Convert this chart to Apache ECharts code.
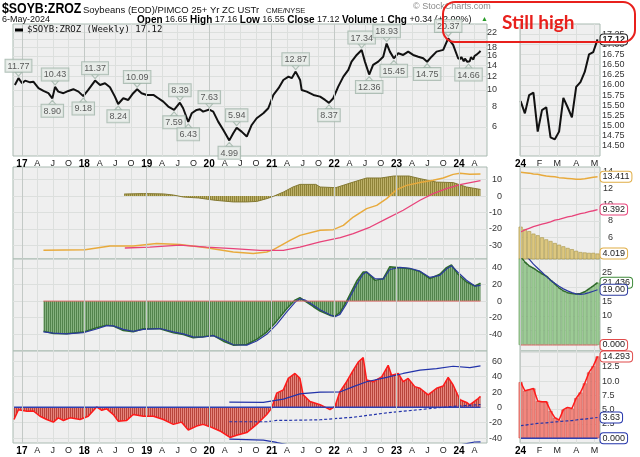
<!DOCTYPE html>
<html><head><meta charset="utf-8">
<script src="https://cdn.jsdelivr.net/npm/echarts@6/dist/echarts.min.js"></script>
<style>html,body{margin:0;padding:0;background:#fff}#c{width:640px;height:457px}</style>
</head><body><div id="c"></div>
<script>
// ---------- DATA ----------
const quarterTicks = ['2017-01-01','2017-04-01','2017-07-01','2017-10-01','2018-01-01','2018-04-01','2018-07-01','2018-10-01','2019-01-01','2019-04-01','2019-07-01','2019-10-01','2020-01-01','2020-04-01','2020-07-01','2020-10-01','2021-01-01','2021-04-01','2021-07-01','2021-10-01','2022-01-01','2022-04-01','2022-07-01','2022-10-01','2023-01-01','2023-04-01','2023-07-01','2023-10-01','2024-01-01','2024-04-01'];
const yearTicks = ['2017-01-01','2018-01-01','2019-01-01','2020-01-01','2021-01-01','2022-01-01','2023-01-01','2024-01-01'];
const monthTicks2024 = ['2024-01-01','2024-02-01','2024-03-01','2024-04-01','2024-05-01'];
const monthLetters = ['J','F','M','A','M','J','J','A','S','O','N','D'];

const priceTicks = [6,8,10,12,14,16,18,20,22];
const p2Ticks = [-30,-20,-10,0,10];
const p2TicksR = [6,8,10,12,14];
const p3Ticks = [-40,-20,0,20,40];
const p3TicksR = [5,10,15,20,25];
const p4Ticks = [-40,-20,0,20,40,60];
const p4TicksR = [2.5,5,7.5,10,12.5,15];

// weekly price history (irregular samples)
const priceDates = ['2016-11-21','2016-12-12','2017-01-02','2017-01-20','2017-02-18','2017-03-09','2017-04-08','2017-05-07','2017-06-05','2017-06-28',
'2017-07-14','2017-08-02','2017-09-01','2017-09-30','2017-10-29','2017-11-28','2017-12-26','2018-01-24','2018-03-05','2018-04-03',
'2018-05-02','2018-05-31','2018-06-29','2018-07-18','2018-08-17','2018-09-15','2018-10-14','2018-11-06','2018-12-02','2019-01-01',
'2019-02-09','2019-03-10','2019-04-08','2019-05-07','2019-06-10','2019-07-14','2019-08-02','2019-09-01','2019-09-21','2019-10-20',
'2019-11-08','2019-11-27','2020-01-02','2020-01-25','2020-02-23','2020-03-24','2020-04-28','2020-05-21','2020-06-10','2020-07-09',
'2020-08-08','2020-09-06','2020-10-05','2020-11-13','2020-12-12','2021-01-11','2021-02-10','2021-03-10','2021-04-09','2021-04-28',
'2021-05-21','2021-06-16','2021-06-25','2021-07-25','2021-09-02','2021-10-11','2021-11-09','2021-12-02','2021-12-27','2022-01-25',
'2022-02-24','2022-03-25','2022-04-13','2022-05-13','2022-06-11','2022-06-30','2022-07-25','2022-08-17','2022-09-16','2022-10-15',
'2022-11-04','2022-11-23','2022-12-16','2023-01-11','2023-02-09','2023-03-10','2023-04-08','2023-05-08','2023-06-06','2023-06-29',
'2023-07-25','2023-08-23','2023-10-01','2023-10-30','2023-11-28','2023-12-27'];
const priceValues = [10.71,11.77,10.96,11.36,11.10,11.20,10.24,9.86,9.56,8.90,
10.43,9.77,9.56,9.86,10.10,9.77,9.18,10.00,11.37,10.71,
10.96,10.38,9.12,8.24,8.92,8.71,9.56,10.09,9.56,9.33,
9.33,8.92,8.51,7.95,7.59,8.39,7.77,6.43,7.25,7.59,
7.66,7.42,7.63,7.42,6.46,5.76,4.99,5.51,5.94,5.63,
5.26,6.17,6.77,7.25,7.77,9.33,10.24,11.47,12.01,11.75,
12.87,11.47,10.00,9.77,9.33,9.12,8.71,8.37,8.92,10.47,
12.01,13.17,14.77,16.19,17.34,14.77,12.36,14.11,14.77,15.81,
18.93,16.95,15.45,16.57,16.19,16.95,16.19,15.81,15.47,14.75,
15.81,16.95,17.36,20.37,18.58,15.47];

const highDates = ['2016-12-12','2017-07-14','2018-03-05','2018-11-06','2019-07-14','2020-01-02','2020-06-10','2021-05-21','2022-06-11','2022-11-04','2023-10-30'];
const highValues = [11.77,10.43,11.37,10.09,8.39,7.63,5.94,12.87,17.34,18.93,20.37];
const lowDates = ['2017-06-28','2017-12-26','2018-07-18','2019-06-10','2019-09-01','2020-04-28','2021-12-02','2022-07-25','2022-12-16','2023-06-29','2024-02-26'];
const lowValues = [8.90,9.18,8.24,7.59,6.43,4.99,8.37,12.36,15.45,14.75,14.66];

// 2024 weekly (right-hand zoom panels)
const weeks2024 = ['2024-01-01','2024-01-08','2024-01-15','2024-01-22','2024-01-29','2024-02-05','2024-02-12','2024-02-19','2024-02-26','2024-03-04','2024-03-11','2024-03-18','2024-03-25','2024-04-01','2024-04-08','2024-04-15','2024-04-22','2024-04-29','2024-05-06'];
const price2024 = [15.60,15.30,15.75,15.81,14.85,15.38,15.45,14.71,14.66,14.85,15.68,15.45,15.20,15.95,16.07,16.32,16.75,16.81,17.12];
const rOrange = [13.95,13.9,13.85,13.75,13.7,13.6,13.5,13.45,13.4,13.3,13.25,13.2,13.15,13.1,13.1,13.15,13.25,13.35,13.411];
const rPink = [6.65,6.9,7.1,7.3,7.45,7.6,7.75,7.9,8.1,8.2,8.35,8.5,8.6,8.75,8.9,9.0,9.15,9.25,9.392];
const rOlive = [7.3,7.0,6.75,6.45,6.25,6.0,5.75,5.55,5.3,5.1,4.9,4.7,4.55,4.35,4.2,4.15,4.1,4.1,4.019];
const rGreen = [30.5,28.5,27.2,26.4,25.4,24.5,23.7,22.3,21.0,19.6,18.6,18.0,17.7,17.5,17.7,18.3,19.3,20.3,21.436];
const rBlue = [33,31.5,29.5,27.8,26.4,25.0,23.6,22.3,21.2,20.2,19.3,18.6,18.0,17.6,17.4,17.6,18.0,18.5,19.0];
const rRed = [9.8,8.3,8.5,8.7,6.5,6.4,6.4,4.8,3.6,3.2,5.0,5.4,5.2,7.0,8.0,9.6,11.5,12.6,14.293];
const rMean = [2.2,2.3,2.4,2.5,2.6,2.65,2.7,2.8,2.85,2.9,3.0,3.05,3.1,3.2,3.3,3.35,3.45,3.55,3.63];
const rZero = [0,0,0,0,0,0,0,0,0,0,0,0,0,0,0,0,0,0,0];

// panel 2 (left)
const p2OrangeDates = ['2017-05-07','2018-01-05','2018-05-31','2018-10-14','2019-02-28','2019-07-14','2019-12-17','2020-05-21','2020-09-15','2020-12-03','2021-01-11','2021-04-18','2021-06-15','2021-10-11','2021-12-27','2022-02-24','2022-04-23','2022-07-10','2022-09-07','2022-11-04','2023-01-02','2023-03-01','2023-05-18','2023-08-03','2023-10-01','2023-11-28','2024-01-07','2024-03-05','2024-05-06'];
const p2Orange = [-33.1,-32.7,-30.5,-30.5,-29,-29.6,-31.5,-34.1,-35.1,-34.1,-32.7,-27,-24,-20.9,-20.5,-17.9,-12.8,-7.7,-5.7,-1.6,3.9,6.5,8.2,9.6,11,13.2,13.9,13.3,13.411];
const p2PinkDates = ['2018-08-26','2019-01-19','2019-07-14','2019-12-17','2020-05-21','2020-10-24','2021-03-10','2021-06-15','2021-10-11','2022-02-06','2022-04-23','2022-07-31','2022-11-04','2023-02-09','2023-05-18','2023-08-03','2023-10-20','2024-01-07','2024-05-06'];
const p2Pink = [-31.7,-31.1,-29.9,-31.1,-32.1,-33.1,-33.1,-31.1,-28,-25.4,-22.9,-18.9,-13.8,-8.7,-2.6,1.5,4.5,6.9,9.392];
const p2HistDates = ['2018-08-22','2018-12-12','2019-04-08','2019-06-06','2019-08-03','2019-11-01','2020-02-05','2020-05-21','2020-08-08','2020-10-05','2020-12-03','2021-01-11','2021-03-10','2021-05-05','2021-06-15','2021-09-16','2021-10-11','2022-01-11','2022-04-23','2022-07-10','2022-10-02','2022-12-16','2023-03-15','2023-05-18','2023-08-23','2023-11-28','2024-02-14','2024-05-06'];
const p2Hist = [1.2,1.5,1.3,0.6,-0.6,-1.2,-2.6,-3.6,-3.6,-3.3,-1.6,-0.2,2.4,5.5,7.1,7.1,5.5,5.1,8.5,11,11,12.2,12.2,10.6,8.5,8.2,5.5,4.019];

// panel 3 (left)
const p3Dates = ['2017-05-07','2017-07-04','2017-09-20','2017-12-26','2018-03-14','2018-05-12','2018-06-20','2018-08-17','2018-10-14','2018-12-12',
'2019-03-19','2019-06-06','2019-08-03','2019-09-30','2019-11-27','2020-01-25','2020-03-24','2020-05-21','2020-08-08','2020-10-05',
'2020-12-03','2021-01-30','2021-03-30','2021-05-17','2021-06-15','2021-07-15','2021-09-02','2021-10-11','2021-12-08','2022-01-06',
'2022-02-04','2022-03-15','2022-05-13','2022-06-20','2022-07-10','2022-08-28','2022-10-15','2022-11-23','2023-01-21','2023-03-20',
'2023-05-18','2023-07-15','2023-09-11','2023-10-20','2023-11-18','2023-12-27','2024-02-14','2024-04-03','2024-05-06'];
const p3Green = [-36.1,-38.9,-39.3,-37.3,-32.1,-28.9,-30.1,-35.3,-36.9,-33.3,
-33.3,-38.1,-40.1,-44.1,-42.9,-41.3,-48.2,-53,-52.2,-46.1,
-37.3,-24.1,-9.2,1.2,4.1,0,-6.8,-12,-17.2,-18.1,
-14,0,24.1,35,35,24.9,27,41.4,40.2,39,
35.4,27,32.2,40.2,43.4,32.2,22.9,18.1,21.436];
const p3Blue = [-37,-38.5,-39.5,-38,-33.5,-29.5,-29.8,-34,-36.5,-34,
-33,-37,-39.5,-43,-43.2,-41.5,-46.5,-52.5,-53,-48,
-40,-28,-13,-1.5,2.8,1.2,-5,-10.5,-16.5,-18.8,
-16,-3,20,32.5,35,27,26.5,38,40.5,39.5,
36,28.5,31,38.5,42.5,34.5,25,18,19.0];
const p3ZeroDates = ['2017-05-07','2024-05-06'];
const p3Zero = [0,0];

// panel 4 (left)
const p4Dates = ['2016-11-16','2016-12-12','2017-01-30','2017-03-09','2017-04-17','2017-05-26','2017-07-04','2017-08-02','2017-09-01','2017-10-10',
'2017-12-07','2018-01-24','2018-03-14','2018-04-13','2018-05-12','2018-06-20','2018-07-18','2018-09-06','2018-10-14','2018-12-12',
'2019-02-09','2019-04-08','2019-06-06','2019-07-24','2019-09-01','2019-10-20','2019-11-27','2020-01-05','2020-03-04','2020-05-02',
'2020-06-10','2020-08-08','2020-10-05','2020-12-03','2021-01-01','2021-01-30','2021-03-10','2021-04-08','2021-05-17','2021-06-15',
'2021-07-04','2021-08-13','2021-10-11','2021-12-08','2022-01-06','2022-02-04','2022-03-15','2022-04-23','2022-05-22','2022-06-20',
'2022-07-10','2022-08-18','2022-10-06','2022-11-13','2022-12-03','2023-01-11','2023-02-09','2023-03-10','2023-04-18','2023-05-18',
'2023-07-05','2023-08-23','2023-10-01','2023-10-30','2023-11-28','2024-01-07','2024-02-15','2024-03-04','2024-04-22','2024-05-06'];
const p4Red = [-15.8,-3,-5.1,-4.8,-11.6,-15.8,-19.3,-13.7,-17.1,-13.7,
-15.8,-11.6,0.5,-3.8,-2,-9.4,-18,-17,-9.4,-11.6,
-11.6,-15.8,-22.2,-19.3,-29.6,-24.4,-22.2,-25.2,-30.8,-39.3,
-36.4,-32.9,-22.2,-9.4,-0.8,18.5,22.8,37.8,44.2,37.8,
16.3,7.7,3.5,-3,1.3,20.6,33.4,48.5,59.1,64.8,
35.6,33.4,39.8,54.9,42,44.2,33.4,37.8,27,24.9,
16.3,24.9,27.9,39,29.2,9.9,6.4,3.2,11.5,14.293];
const p4UpperDates = ['2020-04-28','2020-11-13','2021-03-10','2021-06-15','2021-10-11','2022-02-04','2022-04-23','2022-07-10','2022-11-04','2023-02-09','2023-05-18','2023-08-23','2023-11-28','2024-03-05','2024-05-06'];
const p4Upper = [6.9,6.4,10.8,17.6,19.8,20,27,33.4,39,44.2,48.5,50.6,53.6,51.9,54];
const p4MeanDates = ['2020-04-28','2020-12-03','2021-01-30','2021-06-15','2021-10-11','2022-04-23','2022-11-04','2023-05-18','2023-08-23','2023-11-28','2024-05-06'];
const p4Mean = [-18.8,-18.8,-17.1,-16.7,-16.2,-12.9,-7.2,-3,-0.8,1.3,3.63];
const p4LowerDates = ['2020-04-28','2020-11-13','2021-01-30','2021-06-15','2022-06-20','2023-06-01','2024-01-07','2024-04-01','2024-05-06'];
const p4Lower = [-41.5,-42.8,-45.8,-52,-60,-56,-49,-45.2,-45];
const p4ZeroDates = ['2016-11-16','2024-05-06'];
const p4Zero = [0,0];

// ---------- CHART ----------
const FONT = 'Liberation Sans, Arial, sans-serif';
const ts = s => new Date(s + 'T00:00:00').getTime();
const zip = (d, v) => d.map((x, i) => [ts(x), v[i]]);
const GRIDC = '#dcdfdd';
const YEARC = '#c3c9c6';

function stripes(dark, light) {
  const c = document.createElement('canvas'); c.width = 2; c.height = 2;
  const g = c.getContext('2d');
  g.fillStyle = light; g.fillRect(0, 0, 2, 2);
  g.fillStyle = dark; g.fillRect(0, 0, 1, 2);
  return {image: c, repeat: 'repeat'};
}

function timeLabel(v) {
  const d = new Date(v); const m = d.getMonth();
  if (m === 0) return '{y|' + String(d.getFullYear()).slice(2) + '}';
  return monthLetters[m];
}

const gridBase = {show: true, backgroundColor: '#efefef', borderColor: '#a9bab1', borderWidth: 1};
const grids = [
  {left: 13, top: 24, width: 474, height: 132},
  {left: 520, top: 24, width: 80, height: 132},
  {left: 13, top: 167, width: 474, height: 92},
  {left: 520, top: 167, width: 80, height: 92},
  {left: 13, top: 259, width: 474, height: 92},
  {left: 520, top: 259, width: 80, height: 92},
  {left: 13, top: 351, width: 474, height: 92},
  {left: 520, top: 351, width: 80, height: 92}
].map(g => Object.assign({}, gridBase, g));

function xAxisL(gi, show) {
  const cv = quarterTicks.map(ts);
  return {type: 'value', gridIndex: gi, min: ts('2016-11-10'), max: ts('2024-06-13'), scale: true,
    axisLine: {show: false}, axisTick: {show: false, customValues: cv},
    axisLabel: {show: show, customValues: cv, formatter: timeLabel, margin: 3, fontSize: 9, color: '#222', fontFamily: FONT,
      rich: {y: {fontWeight: 'bold', fontSize: 10, color: '#000', fontFamily: FONT}}},
    splitLine: {show: true, lineStyle: {color: GRIDC, width: 1}}};
}
function xAxisR(gi, show) {
  const cv = monthTicks2024.map(ts);
  return {type: 'value', gridIndex: gi, min: ts('2023-12-31'), max: ts('2024-05-10'), scale: true,
    axisLine: {show: false}, axisTick: {show: false, customValues: cv},
    axisLabel: {show: show, customValues: cv, formatter: timeLabel, margin: 3, fontSize: 9, color: '#222', fontFamily: FONT,
      rich: {y: {fontWeight: 'bold', fontSize: 10, color: '#000', fontFamily: FONT}}},
    splitLine: {show: true, lineStyle: {color: GRIDC, width: 1}}};
}
function yAxis(gi, type, min, max, ticks, fmt, align, margin) {
  return {type: type, gridIndex: gi, position: 'right', min: min, max: max,
    axisLine: {show: false}, axisTick: {show: false, customValues: ticks},
    axisLabel: {customValues: ticks, formatter: fmt, align: align, margin: margin, fontSize: 9, color: '#333', fontFamily: FONT,
      hideOverlap: false, showMinLabel: true, showMaxLabel: true},
    splitLine: {show: true, lineStyle: {color: GRIDC, width: 1}}};
}
const rightPriceTicks = [14.5,14.75,15,15.25,15.5,15.75,16,16.25,16.5,16.75,17,17.25];

const boxLbl = (border, dec) => ({show: true, formatter: p => p.value[1].toFixed(dec), backgroundColor: '#fff', borderColor: border,
  borderWidth: 1, borderRadius: 3, padding: [1, 2, 0, 2], fontSize: 9, color: '#222', fontFamily: FONT, distance: 3});
const tagStyle = {backgroundColor: '#e7ece9', borderColor: '#9fb3a8', borderWidth: 1, padding: [2, 2, 1, 2],
  fontSize: 9, color: '#333', fontFamily: FONT, formatter: p => p.value[1].toFixed(2)};

const L = (name, xi, data, color, width, extra) => Object.assign({type: 'line', name: name, xAxisIndex: xi, yAxisIndex: xi,
  data: data, symbol: 'none', lineStyle: {color: color, width: width}, itemStyle: {color: color}, animation: false, z: 3}, extra || {});

// darker year grid lines (drawn beneath the data)
function yearGrid(xi, ticks, anchor) {
  return {type: 'line', xAxisIndex: xi, yAxisIndex: xi, data: [anchor], symbol: 'none', lineStyle: {opacity: 0}, z: 1, silent: true,
    animation: false,
    markLine: {silent: true, symbol: 'none', animation: false, label: {show: false}, lineStyle: {color: YEARC, type: 'solid', width: 1},
      data: ticks.map(t => ({xAxis: ts(t)}))}};
}

const series = [
  yearGrid(0, yearTicks, [ts('2017-01-01'), 10]),
  yearGrid(2, yearTicks, [ts('2017-01-01'), 0]),
  yearGrid(4, yearTicks, [ts('2017-01-01'), 0]),
  yearGrid(6, yearTicks, [ts('2017-01-01'), 0]),
  yearGrid(1, ['2024-01-01'], [ts('2024-01-01'), 15]),
  yearGrid(3, ['2024-01-01'], [ts('2024-01-01'), 8]),
  yearGrid(5, ['2024-01-01'], [ts('2024-01-01'), 10]),
  yearGrid(7, ['2024-01-01'], [ts('2024-01-01'), 5]),
  // panel 1
  L('price', 0, zip(priceDates.concat(weeks2024), priceValues.concat(price2024)), '#111', 2),
  {type: 'scatter', xAxisIndex: 0, yAxisIndex: 0, data: zip(highDates, highValues), symbol: 'triangle', symbolRotate: 180,
    symbolSize: [7, 4], symbolOffset: [0, -4], itemStyle: {color: '#e7ece9', borderColor: '#9fb3a8', borderWidth: 1},
    label: Object.assign({show: true, position: 'top', distance: 0}, tagStyle), z: 5, animation: false},
  {type: 'scatter', xAxisIndex: 0, yAxisIndex: 0, data: zip(lowDates, lowValues), symbol: 'triangle',
    symbolSize: [7, 4], symbolOffset: [0, 4], itemStyle: {color: '#e7ece9', borderColor: '#9fb3a8', borderWidth: 1},
    label: Object.assign({show: true, position: 'bottom', distance: 0}, tagStyle), z: 5, animation: false},
  L('priceR', 1, zip(weeks2024, price2024), '#111', 2, {endLabel: Object.assign(boxLbl('#222', 2), {fontWeight: 'bold'})}),
  // panel 2
  L('hist', 2, zip(p2HistDates, p2Hist), '#857a33', 1, {areaStyle: {color: stripes('#8f8338', '#bcb068'), opacity: 1}, z: 2}),
  L('orange', 2, zip(p2OrangeDates, p2Orange), '#e8aa3c', 1.5),
  L('pink', 2, zip(p2PinkDates, p2Pink), '#e8437a', 1.3),
  {type: 'bar', xAxisIndex: 3, yAxisIndex: 3, data: zip(weeks2024, rOlive), barWidth: 4,
    itemStyle: {color: '#dcc77f', borderColor: '#a8954a', borderWidth: 0.6}, animation: false, z: 2},
  L('oliveLbl', 3, zip(weeks2024, rOlive), '#a8954a', 0, {lineStyle: {opacity: 0}, endLabel: boxLbl('#e0ad45', 3)}),
  L('orangeR', 3, zip(weeks2024, rOrange), '#e8aa3c', 1.5, {endLabel: boxLbl('#e0ad45', 3)}),
  L('pinkR', 3, zip(weeks2024, rPink), '#e8437a', 1.3, {endLabel: boxLbl('#e8437a', 3)}),
  // panel 3
  L('green', 4, zip(p3Dates, p3Green), '#2f6a2b', 1.5, {areaStyle: {color: stripes('#52834c', '#85b27f'), opacity: 1}, z: 2}),
  L('blue', 4, zip(p3Dates, p3Blue), '#2b3a9e', 1.2),
  L('zero3', 4, zip(p3ZeroDates, p3Zero), '#e06a6a', 1),
  {type: 'bar', xAxisIndex: 5, yAxisIndex: 5, data: zip(weeks2024, rGreen), barWidth: 4,
    itemStyle: {color: '#9ccb95', borderColor: '#6fa268', borderWidth: 0.6}, animation: false, z: 2},
  L('greenR', 5, zip(weeks2024, rGreen), '#2f6a2b', 1.5, {endLabel: boxLbl('#3f8a3a', 3)}),
  L('blueR', 5, zip(weeks2024, rBlue), '#2b3a9e', 1.2, {endLabel: boxLbl('#2b3a9e', 2)}),
  L('zero3R', 5, zip(weeks2024, rZero), '#e06a6a', 1, {endLabel: boxLbl('#e04a4a', 3)}),
  // panel 4
  L('red', 6, zip(p4Dates, p4Red), '#ff1a1a', 1.5, {areaStyle: {color: stripes('#b8443c', '#e6857d'), opacity: 1}, z: 2}),
  L('zero4', 6, zip(p4ZeroDates, p4Zero), '#3040b0', 1.5),
  L('upper', 6, zip(p4UpperDates, p4Upper), '#2233aa', 1.2),
  L('mean', 6, zip(p4MeanDates, p4Mean), '#2233aa', 1.2, {lineStyle: {color: '#2233aa', width: 1.2, type: [3, 2]}}),
  L('lower', 6, zip(p4LowerDates, p4Lower), '#2233aa', 1.2),
  {type: 'bar', xAxisIndex: 7, yAxisIndex: 7, data: zip(weeks2024, rRed), barWidth: 4,
    itemStyle: {color: '#f2877e', borderColor: '#cf5148', borderWidth: 0.6}, animation: false, z: 2},
  L('redR', 7, zip(weeks2024, rRed), '#ff1a1a', 1.5, {endLabel: boxLbl('#e04a4a', 3)}),
  L('meanR', 7, zip(weeks2024, rMean), '#2233aa', 1.2, {lineStyle: {color: '#2233aa', width: 1.2, type: [3, 2]}, endLabel: boxLbl('#2233aa', 2)}),
  L('zero4R', 7, zip(weeks2024, rZero), '#3040b0', 1.5, {endLabel: boxLbl('#2233aa', 3)})
];

const option = {
  backgroundColor: '#fff',
  animation: false,
  grid: grids,
  xAxis: [xAxisL(0, true), xAxisR(1, true), xAxisL(2, false), xAxisR(3, false), xAxisL(4, false), xAxisR(5, false), xAxisL(6, true), xAxisR(7, true)],
  yAxis: [
    yAxis(0, 'log', 4.024, 24.8, priceTicks, v => String(Math.round(v)), 'right', 10),
    yAxis(1, 'value', 14.25, 17.5, rightPriceTicks, v => v.toFixed(2), 'left', 2),
    yAxis(2, 'value', -38.4, 17.7, p2Ticks, v => String(v), 'right', 15),
    yAxis(3, 'value', 3.35, 14.6, p2TicksR, v => String(v), 'right', 13),
    yAxis(4, 'value', -60, 50.6, p3Ticks, v => String(v), 'right', 15),
    yAxis(5, 'value', -2.06, 29.57, p3TicksR, v => String(v), 'right', 12),
    yAxis(6, 'value', -46.5, 73.5, p4Ticks, v => String(v), 'right', 15),
    yAxis(7, 'value', -0.82, 15.24, p4TicksR, v => v.toFixed(1), 'left', 2)
  ],
  series: series,
  graphic: [
    {type: 'text', x: 2, y: 9, scaleX: 0.88, style: {text: '$SOYB:ZROZ', font: 'bold 14px ' + FONT, fill: '#000', textVerticalAlign: 'middle'}},
    {type: 'text', x: 83, y: 10, style: {text: 'Soybeans (EOD)/PIMCO 25+ Yr ZC USTr', font: '9.5px ' + FONT, fill: '#111', textVerticalAlign: 'middle'}},
    {type: 'text', x: 266, y: 10.5, style: {text: 'CME/NYSE', font: '7.5px ' + FONT, fill: '#111', textVerticalAlign: 'middle'}},
    {type: 'text', x: 2, y: 20, style: {text: '6-May-2024', font: '9px ' + FONT, fill: '#111', textVerticalAlign: 'middle'}},
    {type: 'text', x: 137, y: 20, style: {text: '{b|Open} 16.65 {b|High} 17.16 {b|Low} 16.55 {b|Close} 17.12 {b|Volume} 1 {b|Chg} +0.34 (+2.00%)',
      font: '9px ' + FONT, fill: '#111', textVerticalAlign: 'middle', rich: {b: {fontWeight: 'bold', fontSize: 10, fontFamily: FONT, fill: '#000'}}}},
    {type: 'text', x: 481, y: 19, style: {text: '▲', font: '7px ' + FONT, fill: '#2a9d2a', textVerticalAlign: 'middle'}},
    {type: 'text', x: 413, y: 7, style: {text: '© StockCharts.com', font: '9px ' + FONT, fill: '#8a8a8a', textVerticalAlign: 'middle'}},
    {type: 'line', shape: {x1: 15, y1: 30, x2: 23, y2: 30}, style: {stroke: '#000', lineWidth: 3}, z: 10},
    {type: 'text', x: 27, y: 30, z: 10, style: {text: '$SOYB:ZROZ (Weekly) 17.12', font: '9px DejaVu Sans Mono, monospace', fill: '#111', textVerticalAlign: 'middle'}},
    {type: 'rect', shape: {x: 443, y: 2, width: 192, height: 40, r: 12}, style: {fill: 'none', stroke: '#e8201c', lineWidth: 2}, z: 20},
    {type: 'text', x: 502, y: 23, z: 20, style: {text: 'Still high', font: 'bold 19px Lato, Open Sans, sans-serif', fill: '#e8201c', textVerticalAlign: 'middle'}}
  ]
};
const chart = echarts.init(document.getElementById('c'), null, {renderer: 'canvas'});
chart.setOption(option);
</script></body></html>
